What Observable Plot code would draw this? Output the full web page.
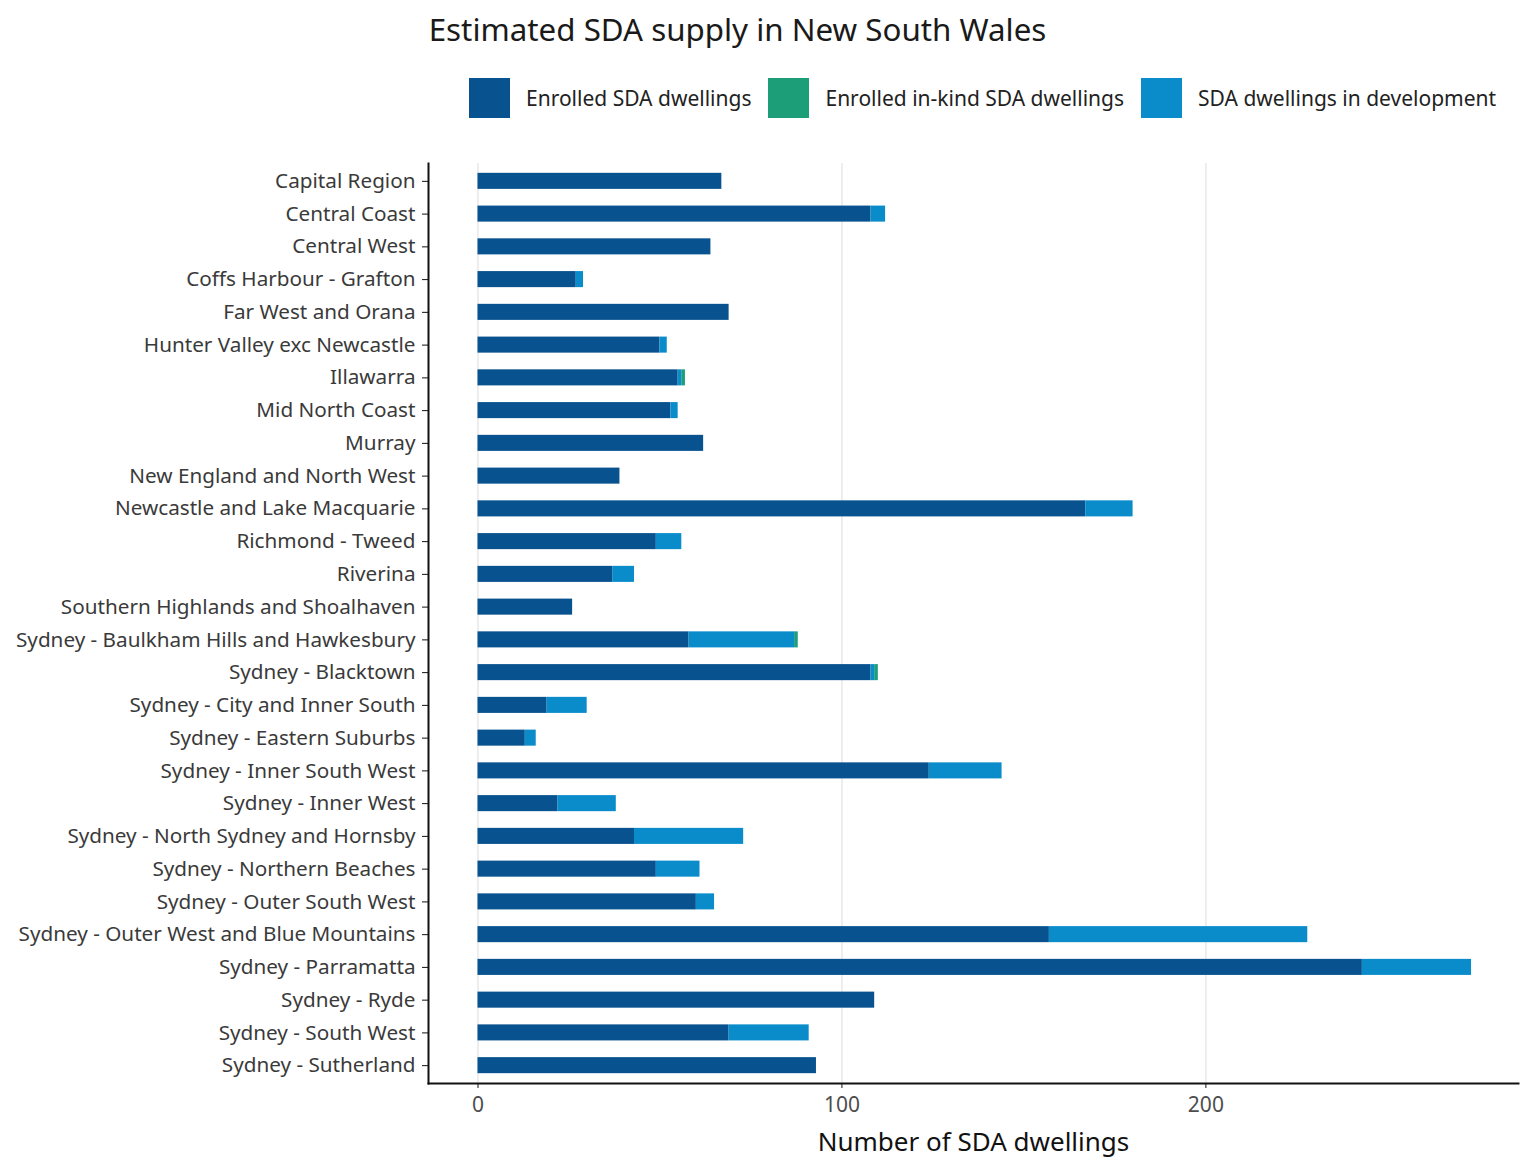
<!DOCTYPE html>
<html><head><meta charset="utf-8">
<script src="https://cdn.jsdelivr.net/npm/d3@7"></script>
<script src="https://cdn.jsdelivr.net/npm/@observablehq/plot@0.6"></script>
<style>
body{margin:0;background:#fff;font-family:"Noto Sans",sans-serif;}
#wrap{position:relative;width:1522px;height:1158px;}
#title{position:absolute;left:0;width:1475px;top:9px;text-align:center;font-size:31.3px;color:#1a1a1a;line-height:40px;}
#legend{position:absolute;left:469px;top:78px;display:flex;align-items:center;}
.item{display:flex;align-items:center;margin-right:17px;}
.sw{width:41px;height:40px;margin-right:16px;}
.lab{font-size:21px;color:#222;}
#chart{position:absolute;left:0;top:140px;}
</style></head>
<body>
<div id="wrap">
  <div id="title">Estimated SDA supply in New South Wales</div>
  <div id="legend"></div>
  <div id="chart"></div>
</div>
<script>
const regions = [
  "Capital Region","Central Coast","Central West","Coffs Harbour - Grafton","Far West and Orana",
  "Hunter Valley exc Newcastle","Illawarra","Mid North Coast","Murray","New England and North West",
  "Newcastle and Lake Macquarie","Richmond - Tweed","Riverina","Southern Highlands and Shoalhaven",
  "Sydney - Baulkham Hills and Hawkesbury","Sydney - Blacktown","Sydney - City and Inner South",
  "Sydney - Eastern Suburbs","Sydney - Inner South West","Sydney - Inner West",
  "Sydney - North Sydney and Hornsby","Sydney - Northern Beaches","Sydney - Outer South West",
  "Sydney - Outer West and Blue Mountains","Sydney - Parramatta","Sydney - Ryde",
  "Sydney - South West","Sydney - Sutherland"
];
const enrolled    = [67,108,64,27,69,50,55,53,62,39,167,49,37,26,58,108,19,13,124,22,43,49,60,157,243,109,69,93];
const inkind      = [0,0,0,0,0,0,1,0,0,0,0,0,0,0,1,1,0,0,0,0,0,0,0,0,0,0,0,0];
const development = [0,4,0,2,0,2,1,2,0,0,13,7,6,0,29,1,11,3,20,16,30,12,5,71,30,0,22,0];

const seriesNames  = ["Enrolled SDA dwellings","Enrolled in-kind SDA dwellings","SDA dwellings in development"];
const seriesColors = ["#08528f","#1c9f79","#0a8ccb"];
const stackOrder   = [seriesNames[0], seriesNames[2], seriesNames[1]];
const xTicks = [0,100,200];

const rows = [];
regions.forEach((r,i)=>{
  rows.push({region:r, series:seriesNames[0], value:enrolled[i]});
  rows.push({region:r, series:seriesNames[1], value:inkind[i]});
  rows.push({region:r, series:seriesNames[2], value:development[i]});
});

// legend
const leg = document.getElementById("legend");
seriesNames.forEach((n,i)=>{
  const it = document.createElement("div"); it.className="item";
  const sw = document.createElement("div"); sw.className="sw"; sw.style.background=seriesColors[i];
  const lb = document.createElement("div"); lb.className="lab"; lb.textContent=n;
  it.appendChild(sw); it.appendChild(lb); leg.appendChild(it);
});

const chart = Plot.plot({
  width:1522, height:1018,
  marginLeft:428, marginRight:4, marginTop:23, marginBottom:75,
  style:{fontFamily:"Noto Sans, sans-serif", fontSize:"21px", background:"white", color:"#333"},
  x:{domain:[-13.6,285.9]},
  y:{domain:regions, paddingInner:0.51, paddingOuter:0.3, round:false},
  color:{domain:seriesNames, range:seriesColors},
  marks:[
    Plot.gridX(xTicks,{stroke:"#e8e8e8", strokeOpacity:1, strokeWidth:1.5}),
    Plot.barX(rows,{y:"region", x:"value", fill:"series", order:stackOrder}),
    Plot.axisY({tickSize:6, tickPadding:7, label:null, fontSize:20.7, stroke:"#111", fill:"#3a3a3a"}),
    Plot.axisX({ticks:xTicks, tickSize:5, tickPadding:9, label:null, fontSize:21, stroke:"#111", fill:"#4d4d4d"}),
    Plot.text(["Number of SDA dwellings"],{frameAnchor:"bottom", dy:59, fontSize:26, fill:"#111", lineAnchor:"middle"}),
    Plot.frame({anchor:"left", stroke:"#111", strokeWidth:2}),
    Plot.frame({anchor:"bottom", stroke:"#111", strokeWidth:2})
  ]
});
document.getElementById("chart").appendChild(chart);
</script>
</body></html>
